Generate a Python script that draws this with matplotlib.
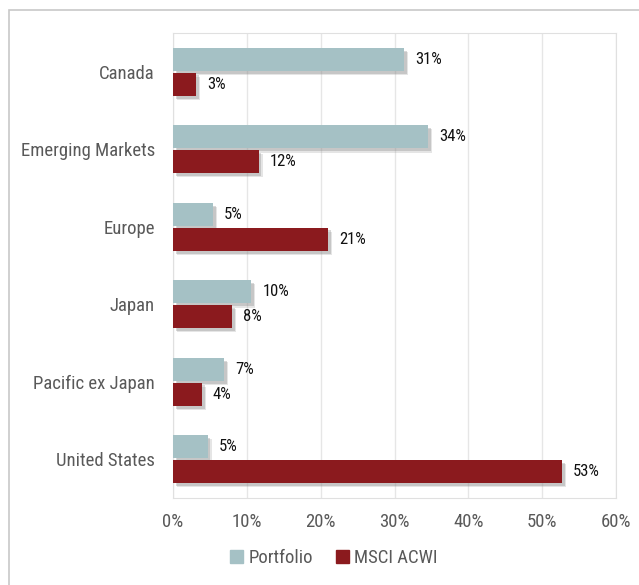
import numpy as np
import matplotlib.pyplot as plt
import matplotlib.patheffects as pe
from matplotlib.patches import Rectangle, Patch
from matplotlib.ticker import FuncFormatter

categories = ["Canada", "Emerging Markets", "Europe", "Japan",
              "Pacific ex Japan", "United States"]
portfolio = [31.3, 34.5, 5.4, 10.6, 6.9, 4.7]
msci_acwi = [3.1, 11.6, 21.0, 8.0, 3.9, 52.7]
portfolio_labels = ["31%", "34%", "5%", "10%", "7%", "5%"]
msci_labels = ["3%", "12%", "21%", "8%", "4%", "53%"]

plt.rcParams['font.family'] = ['Roboto Condensed', 'DejaVu Sans']

fig = plt.figure(figsize=(6.39, 5.85), dpi=100)
ax = fig.add_axes([173/639, 1 - 498/585, (616-173)/639, (498-33)/585])

# outer border of the chart box
fig.patches.append(Rectangle((9/639, -0.1), 1.0, 1 - 10/585 + 0.1,
                             transform=fig.transFigure, fill=False,
                             edgecolor="#c8c8c8", linewidth=1.2))

y = np.arange(len(categories))
h = 0.3
c_port = "#a5c1c5"
c_msci = "#8b1a1e"
shadow = [pe.SimplePatchShadow(offset=(3, -3), shadow_rgbFace="#9a9a9a", alpha=0.25),
          pe.SimplePatchShadow(offset=(2, -2), shadow_rgbFace="#808080", alpha=0.3),
          pe.Normal()]
ax.barh(y - h/2 - 0.01, portfolio, height=h, color=c_port, path_effects=shadow, zorder=3)
ax.barh(y + h/2 + 0.01, msci_acwi, height=h, color=c_msci, path_effects=shadow, zorder=3)

for yy, v, lab in zip(y - h/2 - 0.01, portfolio, portfolio_labels):
    ax.text(v + 1.5, yy, lab, va="center", ha="left", fontsize=12, color="#111111")
for yy, v, lab in zip(y + h/2 + 0.01, msci_acwi, msci_labels):
    ax.text(v + 1.5, yy, lab, va="center", ha="left", fontsize=12, color="#111111")

ax.set_xlim(0, 60)
ax.set_ylim(5.5, -0.5)
ax.set_xticks(np.arange(0, 61, 10))
ax.xaxis.set_major_formatter(FuncFormatter(lambda v, p: "{:.0f}%".format(v)))
ax.set_yticks(y)
ax.set_yticklabels(categories)
ax.tick_params(axis="both", length=0, labelsize=13.5, labelcolor="#595959")
ax.tick_params(axis="x", pad=11)
ax.tick_params(axis="y", pad=13)
ax.grid(axis="x", color="#e6e6e6", linewidth=1, zorder=0)
for s in ax.spines.values():
    s.set_color("#e0e0e0")

handles = [Patch(color=c_port, label="Portfolio"), Patch(color=c_msci, label="MSCI ACWI")]
fig.legend(handles=handles, loc="center", bbox_to_anchor=(334/639, 1 - 558/585),
           ncol=2, frameon=False, fontsize=13.5, handlelength=0.7, handleheight=0.7,
           handletextpad=0.3, columnspacing=1.2, labelcolor="#595959")

fig.savefig("out.png", dpi=100)
